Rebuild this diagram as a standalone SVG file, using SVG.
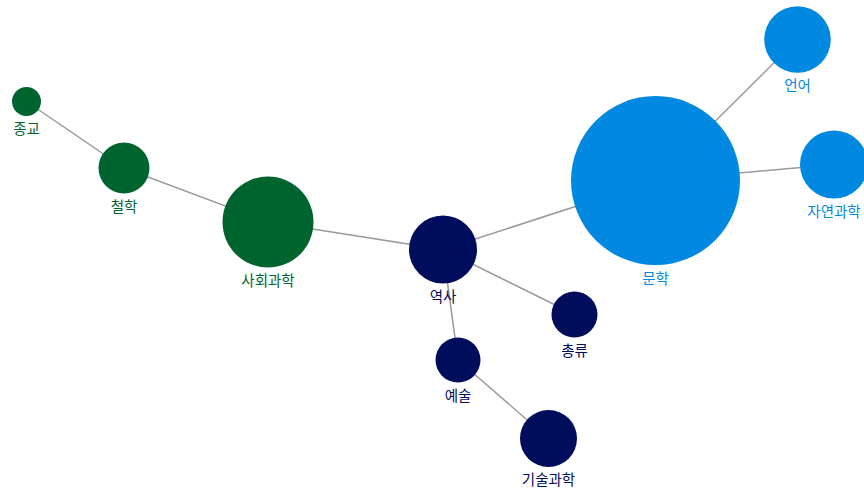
<svg xmlns="http://www.w3.org/2000/svg" width="864" height="490" viewBox="0 0 864 490">
<style>
.edge{stroke:#999;stroke-width:1.5;fill:none}
text{font-family:"Noto Sans CJK KR","Noto Sans",sans-serif;font-size:14.5px;text-anchor:middle}
.g circle{fill:#00642f}.g text{fill:#00642f}
.n circle{fill:#000c5c}.n text{fill:#000c5c}
.b circle{fill:#0188e1}.b text{fill:#0188e1}
</style>
<rect width="864" height="490" fill="#fff"/>
<g id="edges">
<line class="edge" x1="26.5" y1="101.5" x2="124" y2="168"/>
<line class="edge" x1="124" y1="168" x2="268" y2="222"/>
<line class="edge" x1="268" y1="222" x2="443" y2="249.5"/>
<line class="edge" x1="443" y1="249.5" x2="655.5" y2="180.5"/>
<line class="edge" x1="443" y1="249.5" x2="574.5" y2="314.5"/>
<line class="edge" x1="443" y1="249.5" x2="458" y2="360"/>
<line class="edge" x1="458" y1="360" x2="548.5" y2="438.5"/>
<line class="edge" x1="655.5" y1="180.5" x2="797.5" y2="39.5"/>
<line class="edge" x1="655.5" y1="180.5" x2="834" y2="164.5"/>
</g>
<g id="n-jonggyo" class="g"><circle cx="26.5" cy="101.5" r="14.5"/><text x="26.5" y="134">종교</text></g>
<g id="n-cheolhak" class="g"><circle cx="124" cy="168" r="25.5"/><text x="124" y="212">철학</text></g>
<g id="n-sahoegwahak" class="g"><circle cx="268" cy="222" r="45.5"/><text x="268" y="286">사회과학</text></g>
<g id="n-yeoksa" class="n"><circle cx="443" cy="249.5" r="34"/><text x="443" y="302">역사</text></g>
<g id="n-chongryu" class="n"><circle cx="574.5" cy="314.5" r="23"/><text x="574.5" y="356">총류</text></g>
<g id="n-yesul" class="n"><circle cx="458" cy="360" r="22.5"/><text x="458" y="401">예술</text></g>
<g id="n-gisulgwahak" class="n"><circle cx="548.5" cy="438.5" r="28.5"/><text x="548.5" y="485">기술과학</text></g>
<g id="n-munhak" class="b"><circle cx="655.5" cy="180.5" r="84.5"/><text x="655.5" y="284">문학</text></g>
<g id="n-eoneo" class="b"><circle cx="797.5" cy="39.5" r="33.3"/><text x="797.5" y="91">언어</text></g>
<g id="n-jayeongwahak" class="b"><circle cx="834" cy="164.5" r="34"/><text x="834" y="217">자연과학</text></g>
</svg>
